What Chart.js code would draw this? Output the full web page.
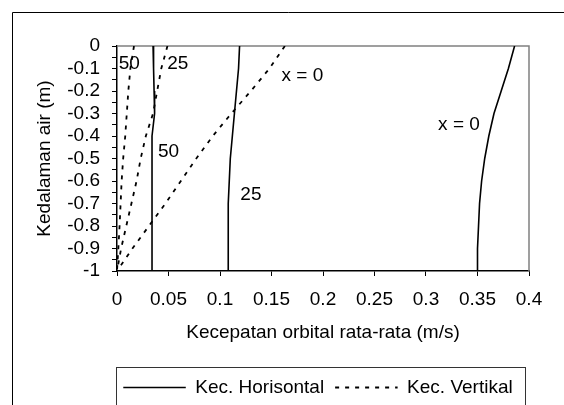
<!DOCTYPE html>
<html>
<head>
<meta charset="utf-8">
<script src="https://cdn.jsdelivr.net/npm/chart.js@4"></script>
<style>
  html, body { margin: 0; padding: 0; background: #fff; overflow: hidden; }
  #wrap { position: relative; width: 564px; height: 407px; }
</style>
</head>
<body>
<div id="wrap"><canvas id="chart"></canvas></div>
<script>
// depth (m) shared by every profile
const depth = [0, -0.1, -0.2, -0.3, -0.4, -0.5, -0.6, -0.7, -0.8, -0.9, -1];

// horizontal orbital velocity (m/s) at x = 0, 25, 50
const horiz0  = [0.386, 0.380, 0.373, 0.366, 0.361, 0.357, 0.354, 0.352, 0.351, 0.350, 0.350];
const horiz25 = [0.119, 0.118, 0.116, 0.114, 0.112, 0.110, 0.109, 0.108, 0.108, 0.108, 0.108];
const horiz50 = [0.035, 0.0355, 0.036, 0.0365, 0.034, 0.034, 0.034, 0.034, 0.034, 0.034, 0.034];

// vertical orbital velocity (m/s) at x = 0, 25, 50
const vert0  = [0.163, 0.148, 0.130, 0.111, 0.093, 0.077, 0.062, 0.047, 0.031, 0.015, 0];
const vert25 = [0.049, 0.043, 0.039, 0.035, 0.028, 0.023, 0.019, 0.014, 0.009, 0.004, 0];
const vert50 = [0.0165, 0.013, 0.011, 0.0095, 0.008, 0.006, 0.0045, 0.0035, 0.0025, 0.0013, 0];

const xTickValues = [0, 0.05, 0.1, 0.15, 0.2, 0.25, 0.3, 0.35, 0.4];
const xTickLabels = ['0', '0.05', '0.1', '0.15', '0.2', '0.25', '0.3', '0.35', '0.4'];
const yTickValues = [0, -0.05, -0.1, -0.15, -0.2, -0.25, -0.3, -0.35, -0.4, -0.45, -0.5,
                     -0.55, -0.6, -0.65, -0.7, -0.75, -0.8, -0.85, -0.9, -0.95, -1];
const yTickLabels = ['0', '', '-0.1', '', '-0.2', '', '-0.3', '', '-0.4', '', '-0.5',
                     '', '-0.6', '', '-0.7', '', '-0.8', '', '-0.9', '', '-1'];

// curve labels written inside the plot (data coordinates)
const curveNotes = [
  { text: '50',    x: 0.012, y: -0.080 },
  { text: '25',    x: 0.059, y: -0.080 },
  { text: 'x = 0', x: 0.180, y: -0.133 },
  { text: 'x = 0', x: 0.332, y: -0.349 },
  { text: '50',    x: 0.050, y: -0.469 },
  { text: '25',    x: 0.130, y: -0.659 }
];

const FONT = "'Liberation Sans', Arial, sans-serif";

function pts(vals) {
  return vals.map((v, i) => ({ x: v, y: depth[i] }));
}

function solid(label, vals) {
  return { label: label, data: pts(vals), borderColor: '#000', borderWidth: 1.6,
           pointRadius: 0, showLine: true, tension: 0 };
}
function dotted(label, vals) {
  return { label: label, data: pts(vals), borderColor: '#000', borderWidth: 1.8,
           borderDash: [4, 6], pointRadius: 0, showLine: true, tension: 0 };
}

const framePlugin = {
  id: 'frames',
  afterLayout(chart) {
    // nudge the legend a little left, like the original
    chart.legend.left -= 5;
    chart.legend.right -= 5;
  },
  beforeDraw(chart) {
    const c = chart.ctx;
    c.save();
    c.strokeStyle = '#000';
    c.lineWidth = 1;
    c.beginPath();
    c.moveTo(12.5, 420);
    c.lineTo(12.5, 12.5);
    c.lineTo(600, 12.5);
    c.stroke();
    c.restore();
  },
  beforeDatasetsDraw(chart) {
    const a = chart.chartArea;
    const c = chart.ctx;
    c.save();
    c.strokeStyle = '#808080';
    c.lineWidth = 1.5;
    c.beginPath();
    c.moveTo(a.left, a.top);
    c.lineTo(a.right, a.top);
    c.lineTo(a.right, a.bottom);
    c.stroke();
    c.restore();
  },
  afterDraw(chart) {
    const c = chart.ctx;
    const xs = chart.scales.x, ys = chart.scales.y;
    c.save();
    c.fillStyle = '#000';
    c.font = '19px ' + FONT;
    c.textAlign = 'center';
    c.textBaseline = 'middle';
    curveNotes.forEach(n => {
      c.fillText(n.text, xs.getPixelForValue(n.x), ys.getPixelForValue(n.y));
    });
    const lg = chart.legend;
    c.strokeStyle = '#333';
    c.lineWidth = 1;
    c.strokeRect(Math.round(lg.left) + 4.5, Math.round(lg.top) + 0.5, 409, lg.height);
    c.restore();
  }
};

const ctx = document.getElementById('chart');
new Chart(ctx, {
  type: 'scatter',
  data: {
    datasets: [
      solid('Kec. Horisontal', horiz0),
      solid('Kec. Horisontal', horiz25),
      solid('Kec. Horisontal', horiz50),
      dotted('Kec. Vertikal', vert0),
      dotted('Kec. Vertikal', vert25),
      dotted('Kec. Vertikal', vert50)
    ]
  },
  options: {
    responsive: true,
    maintainAspectRatio: false,
    animation: false,
    layout: { padding: { left: 12, top: 46, right: 35, bottom: 0 } },
    plugins: {
      tooltip: { enabled: false },
      legend: {
        position: 'bottom',
        fullSize: false,
        labels: {
          color: '#000',
          font: { family: FONT, size: 19 },
          usePointStyle: true,
          pointStyle: 'line',
          pointStyleWidth: 62.5,
          boxWidth: 62.5,
          padding: 11,
          filter: (item) => item.datasetIndex === 0 || item.datasetIndex === 3,
          generateLabels: (chart) => {
            const items = Chart.defaults.plugins.legend.labels.generateLabels(chart);
            items.forEach(it => {
              const ds = chart.data.datasets[it.datasetIndex];
              it.lineDash = ds.borderDash || [];
              it.lineWidth = ds.borderWidth;
              it.strokeStyle = '#000';
            });
            return items;
          }
        }
      }
    },
    scales: {
      x: {
        type: 'linear',
        min: 0,
        max: 0.4,
        afterBuildTicks: (s) => { s.ticks = xTickValues.map(v => ({ value: v })); },
        afterFit: (s) => { s.height = 96; },
        ticks: {
          autoSkip: false,
          maxRotation: 0,
          color: '#000',
          padding: 12,
          font: { family: FONT, size: 19 },
          callback: (v, i) => xTickLabels[i]
        },
        grid: { drawOnChartArea: false, drawTicks: true, tickLength: 5, color: '#000' },
        border: { display: true, color: '#000', width: 1.5 },
        title: {
          display: true,
          text: 'Kecepatan orbital rata-rata (m/s)',
          color: '#000',
          font: { family: FONT, size: 19 },
          padding: { top: 0, bottom: 23 }
        }
      },
      y: {
        type: 'linear',
        min: -1,
        max: 0,
        afterBuildTicks: (s) => { s.ticks = yTickValues.map(v => ({ value: v })); },
        afterFit: (s) => { s.width = 105; },
        ticks: {
          autoSkip: false,
          color: '#000',
          padding: 12,
          font: { family: FONT, size: 19 },
          callback: (v, i) => yTickLabels[i]
        },
        grid: { drawOnChartArea: false, drawTicks: true, tickLength: 5, color: '#000' },
        border: { display: true, color: '#000', width: 1.5 },
        title: {
          display: true,
          text: 'Kedalaman air (m)',
          color: '#000',
          font: { family: FONT, size: 19 },
          padding: { top: 21, bottom: 0 }
        }
      }
    }
  },
  plugins: [framePlugin]
});
</script>
</body>
</html>
